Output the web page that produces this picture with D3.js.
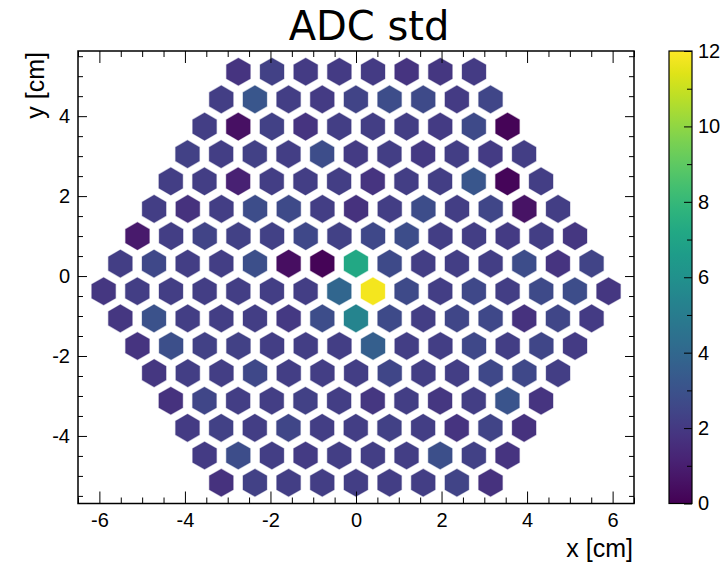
<!DOCTYPE html>
<html>
<head>
<meta charset="utf-8">
<script src="https://cdn.jsdelivr.net/npm/d3@7"></script>
<style>
  html, body { margin: 0; padding: 0; background: #fff; }
  svg { display: block; }
  .tick text { font-family: "Liberation Sans", Arial, sans-serif; font-size: 20px; fill: #000; }
</style>
</head>
<body>
<svg id="chart" width="722" height="564"></svg>
<script>
// Honeycomb detector layout: one entry per row, top to bottom
const rowY      = [5.11, 4.42, 3.74, 3.05, 2.37, 1.68, 1.00, 0.31, -0.38, -1.06, -1.75, -2.43, -3.12, -3.80, -4.49, -5.17];
const rowStartX = [-2.75, -3.15, -3.54, -3.94, -4.33, -4.72, -5.11, -5.51, -5.90, -5.51, -5.11, -4.72, -4.33, -3.94, -3.54, -3.15];
const cellPitch = 0.787; // cm between neighbouring cell centres in a row

// ADC standard deviation per cell, row by row (left to right)
const adcStd = [
  [1.8, 2.3, 2.1, 2.1, 2.1, 1.8, 1.9, 2.1],
  [2.2, 3.2, 2.2, 2.1, 2.4, 2.8, 2.7, 2.1, 2.5],
  [2.2, 0.5, 2.3, 1.8, 2.2, 2.2, 2.2, 2.1, 2.7, 0.1],
  [2.3, 2.2, 2.3, 2.2, 2.8, 2.1, 2.2, 2.0, 2.2, 2.1, 2.2],
  [2.2, 2.2, 1.1, 2.2, 2.2, 2.2, 1.8, 2.2, 2.2, 3.2, 0.15, 2.2],
  [2.2, 1.7, 2.2, 2.8, 2.7, 2.2, 1.7, 2.2, 2.8, 2.2, 2.5, 0.6, 2.2],
  [0.8, 2.2, 2.4, 2.3, 2.3, 2.6, 2.3, 2.6, 2.8, 2.2, 2.2, 2.1, 2.2, 1.9],
  [2.2, 2.6, 2.2, 2.2, 2.9, 0.45, 0.12, 7.2, 2.7, 2.2, 2.2, 2.2, 2.8, 1.8, 2.4],
  [1.9, 2.2, 2.2, 2.2, 2.2, 2.2, 2.2, 3.9, 11.8, 2.7, 2.2, 2.6, 2.2, 2.7, 2.8, 1.9],
  [1.9, 3.0, 2.2, 2.2, 2.2, 2.0, 2.8, 5.4, 2.7, 2.2, 2.5, 2.6, 1.7, 2.5, 2.1],
  [1.8, 2.9, 2.3, 2.3, 2.2, 2.2, 2.2, 3.6, 2.2, 2.2, 2.6, 2.2, 2.5, 2.1],
  [1.9, 2.2, 2.2, 2.6, 2.2, 2.2, 2.2, 2.5, 2.2, 2.2, 2.6, 2.6, 2.2],
  [1.7, 2.5, 2.2, 2.2, 2.3, 2.2, 1.9, 2.2, 1.9, 2.2, 3.1, 1.8],
  [2.1, 2.3, 2.2, 2.5, 2.2, 2.2, 2.3, 2.2, 1.8, 2.4, 1.7],
  [2.1, 2.8, 2.2, 2.1, 2.2, 2.2, 2.2, 2.9, 2.3, 1.8],
  [1.7, 2.3, 2.2, 2.2, 2.2, 2.2, 2.2, 2.4, 1.7]
];

// Axis ranges and tick labels
const xRange = [-6.5, 6.5];
const yRange = [-5.69, 5.63];
const zRange = [0, 12];
const xMajorTicks = [-6, -4, -2, 0, 2, 4, 6];
const yMajorTicks = [-4, -2, 0, 2, 4];
const zMajorTicks = [0, 2, 4, 6, 8, 10, 12];
const zMinorTicks = [1, 3, 5, 7, 9, 11];
const titleText = "ADC std";
const xTitle = "x [cm]";
const yTitle = "y [cm]";

const cellHalfWidth = 0.28; // cm, flat-to-flat half width of a cell

// ---- layout ----
const frame = { left: 78, right: 634, top: 51, bottom: 503.5 };
const bar = { left: 669, right: 692 };

const svg = d3.select("#chart");

const x = d3.scaleLinear().domain(xRange).range([frame.left, frame.right]);
const y = d3.scaleLinear().domain(yRange).range([frame.bottom, frame.top]);
const color = d3.scaleSequential(d3.interpolateViridis).domain(zRange);
const z = d3.scaleLinear().domain(zRange).range([frame.bottom, frame.top]);

// plain hyphen-minus labels
const plainLabel = d => String(d);

// Flatten rows into cells
const cells = [];
adcStd.forEach((row, r) => {
  row.forEach((v, k) => {
    cells.push({ cx: rowStartX[r] + k * cellPitch, cy: rowY[r], value: v });
  });
});

// Pointy-top hexagon path in pixel space, sized from the x scale
const halfW = x(cellHalfWidth) - x(0);
const radius = halfW * 2 / Math.sqrt(3);
function hexPath(px, py) {
  const pts = d3.range(6).map(i => {
    const a = Math.PI / 180 * (60 * i - 90);
    return [px + radius * Math.cos(a), py + radius * Math.sin(a)];
  });
  return "M" + pts.map(p => p.join(",")).join("L") + "Z";
}

svg.append("g")
  .selectAll("path")
  .data(cells)
  .join("path")
  .attr("d", d => hexPath(x(d.cx), y(d.cy)))
  .attr("fill", d => color(d.value))
  .attr("stroke", d => color(d.value))
  .attr("stroke-opacity", 0.3)
  .attr("stroke-width", 1.2);

// ---- axes with inward ticks on all four sides ----
function minorRange(lo, hi, step) {
  const out = [];
  for (let v = Math.ceil(lo / step) * step; v <= hi + 1e-9; v += step) out.push(+v.toFixed(3));
  return out;
}
const xMinor = minorRange(xRange[0], xRange[1], 0.5).filter(v => !xMajorTicks.includes(v));
const yMinor = minorRange(yRange[0], yRange[1], 0.5).filter(v => !yMajorTicks.includes(v));

function styleAxis(g) {
  g.select(".domain").remove();
  g.selectAll(".tick line").attr("stroke", "#000").attr("stroke-width", 1);
}

// bottom
svg.append("g").attr("transform", `translate(0,${frame.bottom})`)
  .call(d3.axisBottom(x).tickValues(xMajorTicks).tickSize(-12).tickPadding(9).tickFormat(plainLabel))
  .call(styleAxis);
svg.append("g").attr("transform", `translate(0,${frame.bottom})`)
  .call(d3.axisBottom(x).tickValues(xMinor).tickSize(-6).tickFormat(""))
  .call(styleAxis);
// top
svg.append("g").attr("transform", `translate(0,${frame.top})`)
  .call(d3.axisTop(x).tickValues(xMajorTicks).tickSize(-12).tickFormat(""))
  .call(styleAxis);
svg.append("g").attr("transform", `translate(0,${frame.top})`)
  .call(d3.axisTop(x).tickValues(xMinor).tickSize(-6).tickFormat(""))
  .call(styleAxis);
// left
svg.append("g").attr("transform", `translate(${frame.left},0)`)
  .call(d3.axisLeft(y).tickValues(yMajorTicks).tickSize(-9).tickPadding(8).tickFormat(plainLabel))
  .call(styleAxis);
svg.append("g").attr("transform", `translate(${frame.left},0)`)
  .call(d3.axisLeft(y).tickValues(yMinor).tickSize(-5).tickFormat(""))
  .call(styleAxis);
// right
svg.append("g").attr("transform", `translate(${frame.right},0)`)
  .call(d3.axisRight(y).tickValues(yMajorTicks).tickSize(-9).tickFormat(""))
  .call(styleAxis);
svg.append("g").attr("transform", `translate(${frame.right},0)`)
  .call(d3.axisRight(y).tickValues(yMinor).tickSize(-5).tickFormat(""))
  .call(styleAxis);

// frame
svg.append("rect")
  .attr("x", frame.left).attr("y", frame.top)
  .attr("width", frame.right - frame.left).attr("height", frame.bottom - frame.top)
  .attr("fill", "none").attr("stroke", "#000").attr("stroke-width", 1.5);

// ---- colour bar ----
const defs = svg.append("defs");
const grad = defs.append("linearGradient").attr("id", "viridisBar")
  .attr("x1", 0).attr("y1", 1).attr("x2", 0).attr("y2", 0);
d3.range(0, 1.0001, 0.05).forEach(t => {
  grad.append("stop").attr("offset", t).attr("stop-color", d3.interpolateViridis(t));
});
svg.append("rect")
  .attr("x", bar.left).attr("y", frame.top)
  .attr("width", bar.right - bar.left).attr("height", frame.bottom - frame.top)
  .attr("fill", "url(#viridisBar)");
svg.append("g").attr("transform", `translate(${bar.right},0)`)
  .call(d3.axisRight(z).tickValues(zMajorTicks).tickSize(-8).tickPadding(6).tickFormat(plainLabel))
  .call(styleAxis)
  .call(g => g.selectAll(".tick text").attr("x", 6));
svg.append("g").attr("transform", `translate(${bar.right},0)`)
  .call(d3.axisRight(z).tickValues(zMinorTicks).tickSize(-5).tickFormat(""))
  .call(styleAxis);
svg.append("rect")
  .attr("x", bar.left).attr("y", frame.top)
  .attr("width", bar.right - bar.left).attr("height", frame.bottom - frame.top)
  .attr("fill", "none").attr("stroke", "#000").attr("stroke-width", 1.2);

// ---- titles ----
svg.append("text")
  .attr("x", 369).attr("y", 40)
  .attr("text-anchor", "middle")
  .attr("font-family", "'DejaVu Sans', sans-serif")
  .attr("font-size", 40)
  .text(titleText);

svg.append("text")
  .attr("x", frame.right - 1).attr("y", 557)
  .attr("text-anchor", "end")
  .attr("font-family", "'Liberation Sans', Arial, sans-serif")
  .attr("font-size", 25)
  .text(xTitle);

svg.append("text")
  .attr("transform", `translate(44,${frame.top + 1}) rotate(-90)`)
  .attr("text-anchor", "end")
  .attr("font-family", "'Liberation Sans', Arial, sans-serif")
  .attr("font-size", 25)
  .text(yTitle);
</script>
</body>
</html>
